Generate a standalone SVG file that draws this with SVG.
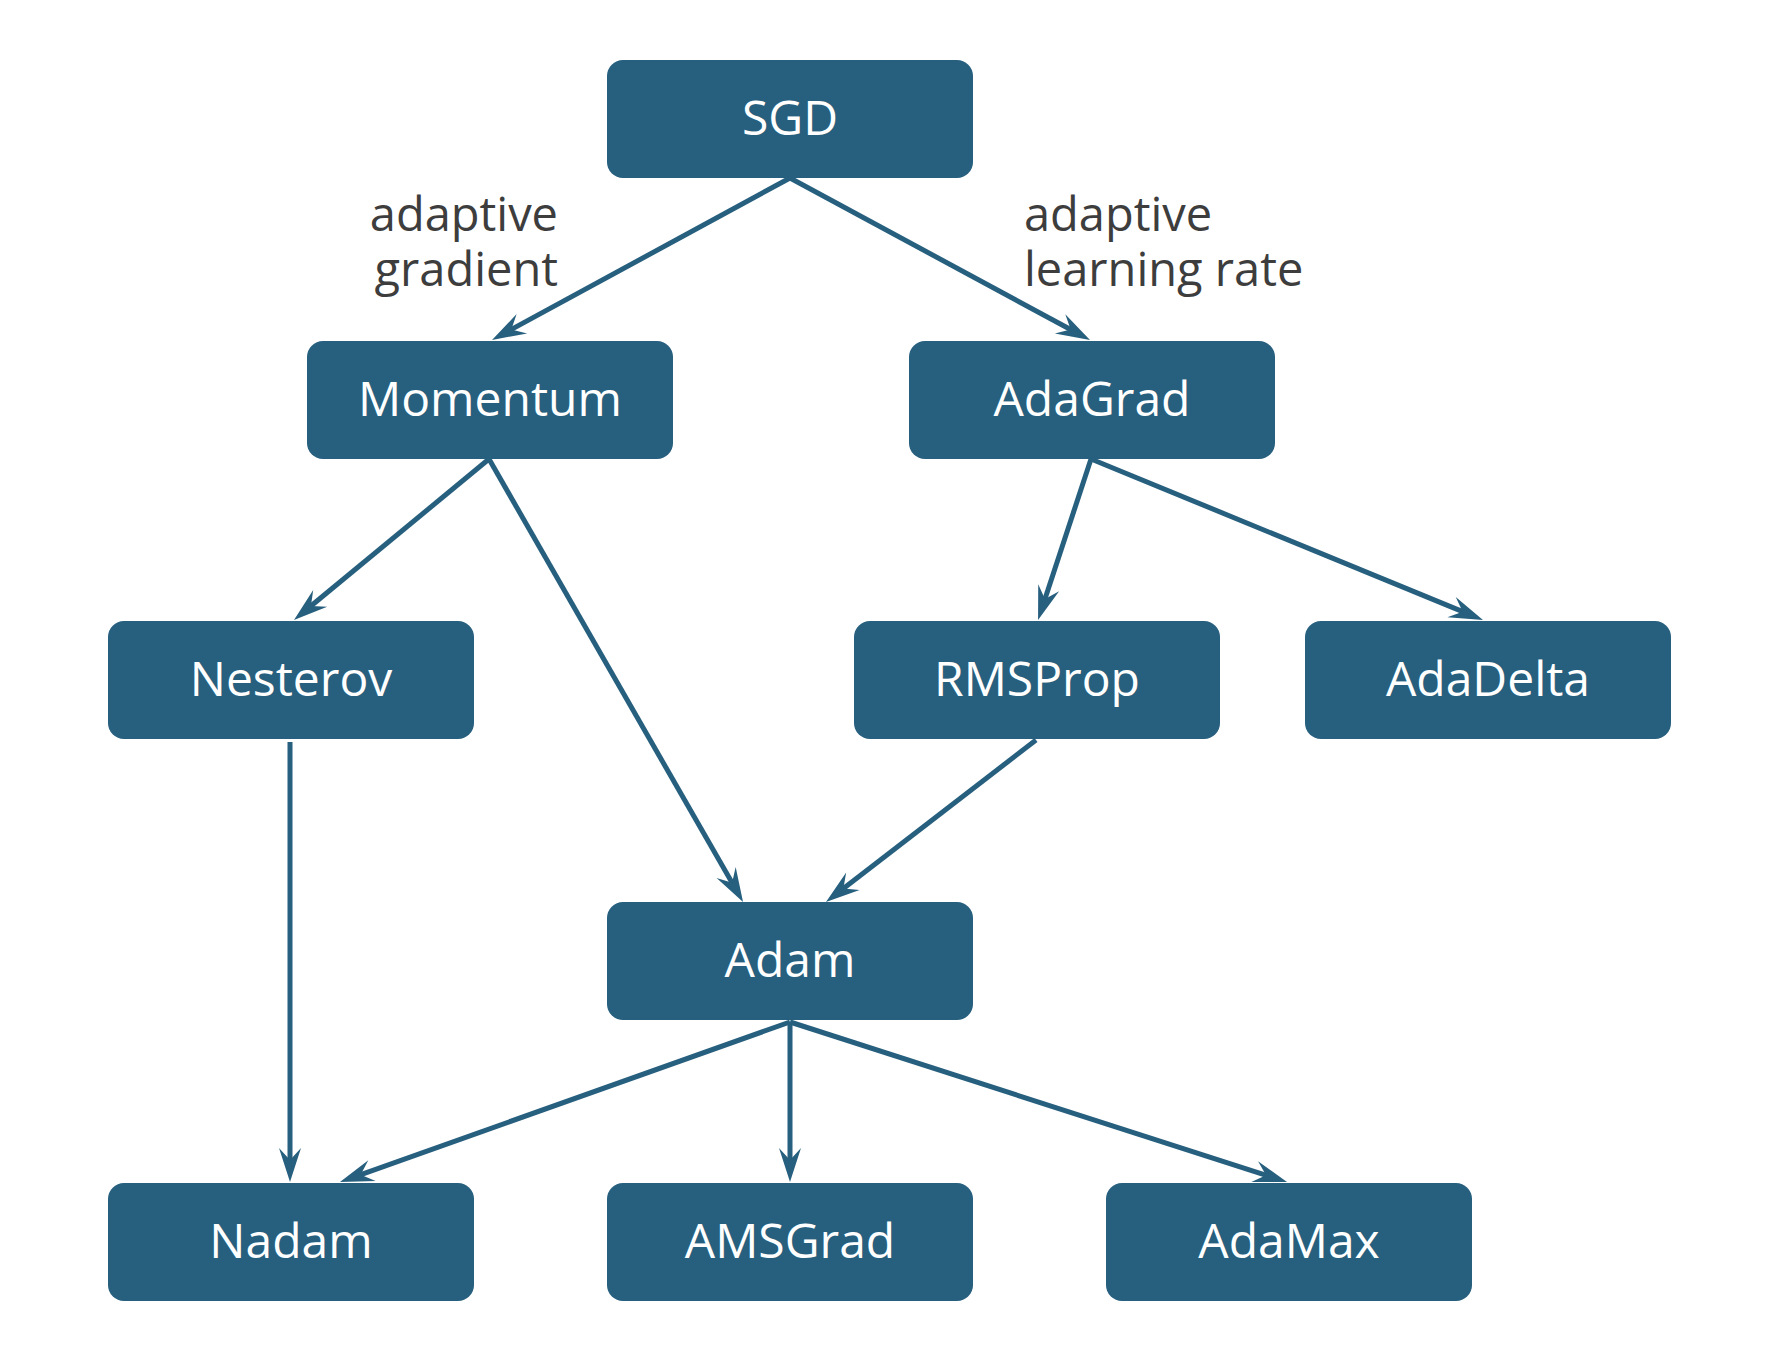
<svg xmlns="http://www.w3.org/2000/svg" width="1780" height="1358" viewBox="0 0 1780 1358">
<style>
.box{fill:#275f7e}
.nt{font-family:"Open Sans","Noto Sans",sans-serif;font-size:48px;fill:#ffffff;text-anchor:middle}
.lbl{font-family:"Open Sans","Noto Sans",sans-serif;font-size:47px;fill:#3d3d3d}
.edge{stroke:#275f7e;stroke-width:5;fill:none;marker-end:url(#arr)}
</style>
<defs>
<marker id="arr" markerUnits="userSpaceOnUse" viewBox="-16 -12 38 24" refX="0" refY="0" markerWidth="38" markerHeight="24" orient="auto">
<path d="M20,0 L-14,-11 L-2,0 L-14,11 Z" fill="#275f7e"/>
</marker>
</defs>
<rect width="1780" height="1358" fill="#ffffff"/>
<g id="edges">
<line class="edge" x1="790" y1="178" x2="509.6" y2="330.4"/>
<line class="edge" x1="790" y1="178" x2="1072.4" y2="330.5"/>
<line class="edge" x1="489" y1="459" x2="309.4" y2="607.3"/>
<line class="edge" x1="489" y1="459" x2="733.1" y2="884.6"/>
<line class="edge" x1="1091" y1="459" x2="1044.3" y2="601"/>
<line class="edge" x1="1091" y1="459" x2="1464.5" y2="612.4"/>
<line class="edge" x1="1036" y1="740" x2="841.8" y2="889.8"/>
<line class="edge" x1="290" y1="742" x2="290" y2="1162"/>
<line class="edge" x1="790" y1="1022" x2="358.8" y2="1175.3"/>
<line class="edge" x1="790" y1="1022" x2="790" y2="1162"/>
<line class="edge" x1="790" y1="1022" x2="1268" y2="1175.9"/>
</g>
<g id="labels">
<text class="lbl" x="558" y="231" text-anchor="end">adaptive</text>
<text class="lbl" x="558" y="286" text-anchor="end">gradient</text>
<text class="lbl" x="1024" y="231">adaptive</text>
<text class="lbl" x="1024" y="286">learning rate</text>
</g>
<g id="SGD"><rect class="box" x="607" y="60" width="366" height="118" rx="16"/><text class="nt" x="790" y="135">SGD</text></g>
<g id="Momentum"><rect class="box" x="307" y="341" width="366" height="118" rx="16"/><text class="nt" x="490" y="416">Momentum</text></g>
<g id="AdaGrad"><rect class="box" x="909" y="341" width="366" height="118" rx="16"/><text class="nt" x="1092" y="416">AdaGrad</text></g>
<g id="Nesterov"><rect class="box" x="108" y="621" width="366" height="118" rx="16"/><text class="nt" x="291" y="696">Nesterov</text></g>
<g id="RMSProp"><rect class="box" x="854" y="621" width="366" height="118" rx="16"/><text class="nt" x="1037" y="696">RMSProp</text></g>
<g id="AdaDelta"><rect class="box" x="1305" y="621" width="366" height="118" rx="16"/><text class="nt" x="1488" y="696">AdaDelta</text></g>
<g id="Adam"><rect class="box" x="607" y="902" width="366" height="118" rx="16"/><text class="nt" x="790" y="977">Adam</text></g>
<g id="Nadam"><rect class="box" x="108" y="1183" width="366" height="118" rx="16"/><text class="nt" x="291" y="1258">Nadam</text></g>
<g id="AMSGrad"><rect class="box" x="607" y="1183" width="366" height="118" rx="16"/><text class="nt" x="790" y="1258">AMSGrad</text></g>
<g id="AdaMax"><rect class="box" x="1106" y="1183" width="366" height="118" rx="16"/><text class="nt" x="1289" y="1258">AdaMax</text></g>
</svg>
